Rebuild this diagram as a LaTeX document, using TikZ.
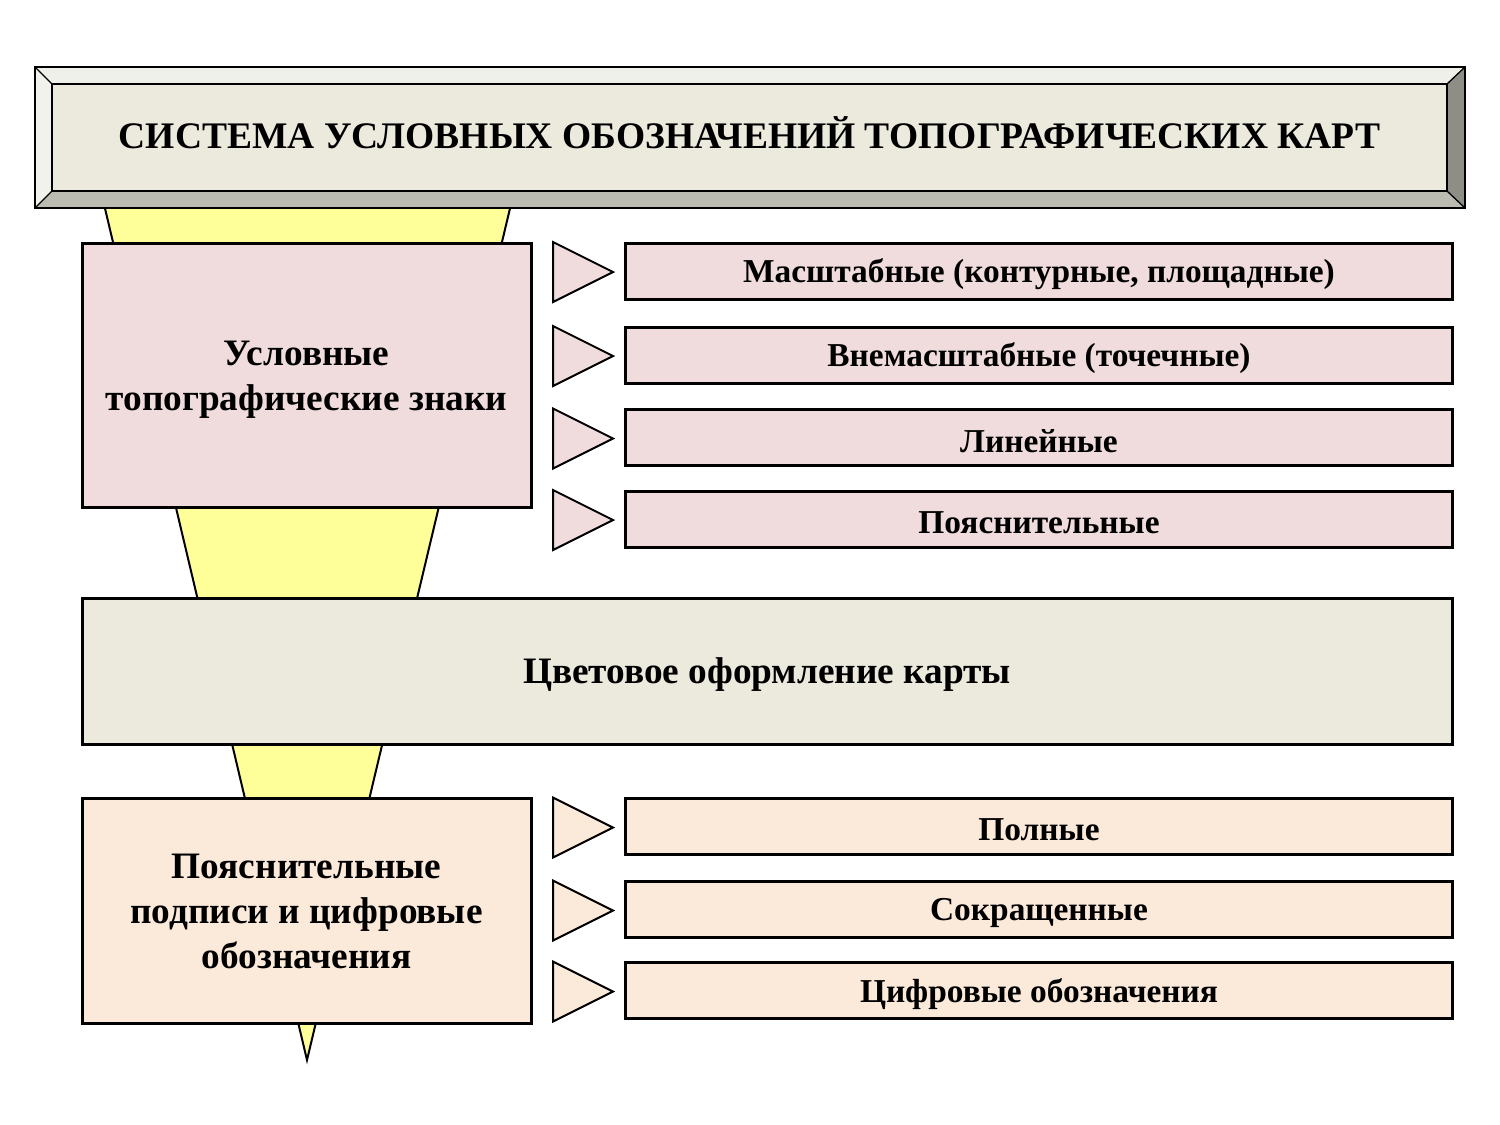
\documentclass[tikz,border=0pt]{standalone}
\usepackage{fontspec}
\setmainfont{Liberation Serif}
\usetikzlibrary{calc}
\definecolor{pinkf}{HTML}{F0DCDC}
\definecolor{peachf}{HTML}{FBE9DA}
\definecolor{beigef}{HTML}{ECE9DD}
\definecolor{yellowf}{HTML}{FFFF99}
\definecolor{bevtop}{HTML}{F0F0EA}
\definecolor{bevleft}{HTML}{F2F2EC}
\definecolor{bevbot}{HTML}{BDBCB2}
\definecolor{bevright}{HTML}{8E8E86}
\begin{document}
\begin{tikzpicture}[x=1pt,y=-1pt,
  bigbox/.style={draw=black,line width=3pt,inner sep=0pt,align=center,font=\bfseries\fontsize{37.3}{45}\selectfont},
  smallbox/.style={draw=black,line width=3pt,inner sep=0pt,minimum width=827pt,minimum height=56pt,font=\bfseries\fontsize{33.4}{36}\selectfont},
  tri/.style={draw=black,line width=2pt,line join=miter}]
\useasboundingbox (0,0) rectangle (1500,1125);
% funnel
\draw[fill=yellowf,line width=2pt,line join=miter] (103,200) -- (512,200) -- (307,1060) -- cycle;
% title bevel
\coordinate (o1) at (35,67); \coordinate (o2) at (1465,67);
\coordinate (o3) at (1465,208); \coordinate (o4) at (35,208);
\coordinate (i1) at (52,84); \coordinate (i2) at (1447,84);
\coordinate (i3) at (1447,191); \coordinate (i4) at (52,191);
\fill[bevtop] (o1)--(o2)--(i2)--(i1)--cycle;
\fill[bevleft] (o1)--(i1)--(i4)--(o4)--cycle;
\fill[bevbot] (o4)--(i4)--(i3)--(o3)--cycle;
\fill[bevright] (o2)--(o3)--(i3)--(i2)--cycle;
\draw[line width=1.3pt] (o1)--(o2)--(o3)--(o4)--cycle;
\draw[line width=1.3pt] (o1)--(i1) (o2)--(i2) (o3)--(i3) (o4)--(i4);
\node[draw=black,line width=1.3pt,fill=beigef,minimum width=1395pt,minimum height=107pt,inner sep=0pt] (title) at (749.5,137.5) {};
\node[font=\bfseries\fontsize{37.5}{40}\selectfont,inner sep=0pt] (titletxt) at ($(title.center)+(0,-5)$) {СИСТЕМА УСЛОВНЫХ ОБОЗНАЧЕНИЙ ТОПОГРАФИЧЕСКИХ КАРТ};
% left boxes
\node[bigbox,fill=pinkf,minimum width=449pt,minimum height=264pt] (usl) at (306.5,375) {};
\node[bigbox,draw=none,fill=none] (usltxt) at ($(usl.center)+(0,5)$) {Условные\\топографические знаки};
\node[bigbox,fill=beigef,minimum width=1370pt,minimum height=146pt] (cvet) at (767,671) {};
\node[bigbox,draw=none,fill=none] (cvettxt) at ($(cvet.center)+(0,4)$) {Цветовое оформление карты};
\node[bigbox,fill=peachf,minimum width=449pt,minimum height=225pt] (poy) at (306.5,910.5) {};
\node[bigbox,draw=none,fill=none] (poytxt) at ($(poy.center)+(0,1)$) {Пояснительные\\подписи и цифровые\\обозначения};
% right boxes
\foreach \n/\y/\c/\t in {r1/271/pinkf/{Масштабные (контурные, площадные)},
  r2/355/pinkf/{Внемасштабные (точечные)},
  r3/437.5/pinkf/{Линейные},
  r4/519/pinkf/{Пояснительные},
  p1/826.5/peachf/{Полные},
  p2/909.5/peachf/{Сокращенные},
  p3/990.5/peachf/{Цифровые обозначения}}{
  \node[smallbox,fill=\c] (\n) at (1039,\y) {};
  \node[smallbox,draw=none,fill=none] (\n t) at ($(\n.center)+(0,3.5)$) {\t};
  \draw[tri,fill=\c] ($(\n.west)+(-71,-29)$) -- ($(\n.west)+(-11,1)$) -- ($(\n.west)+(-71,31)$) -- cycle;
}
\end{tikzpicture}
\end{document}
